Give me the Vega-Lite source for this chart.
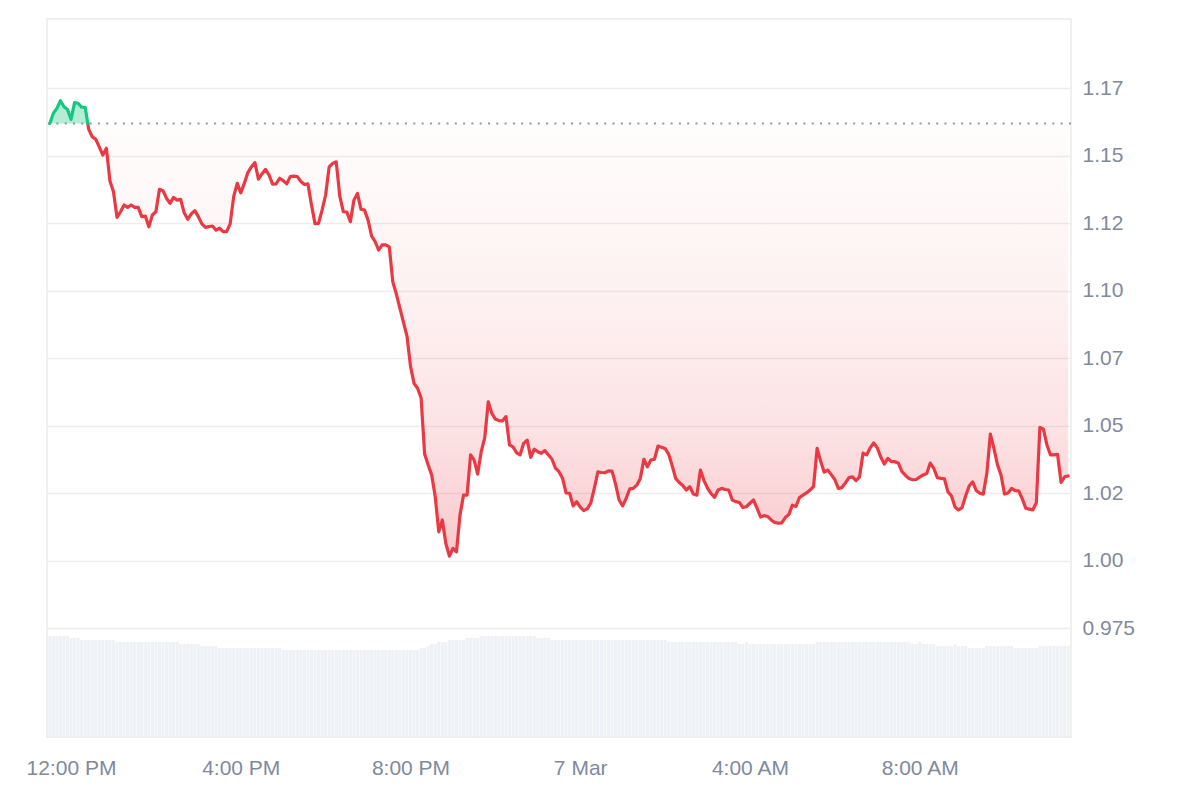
{
  "$schema": "https://vega.github.io/schema/vega-lite/v6.json",
  "width": 1024,
  "height": 718,
  "autosize": {"type": "none"},
  "padding": {"left": 47, "top": 19, "right": 129, "bottom": 63},
  "background": "#ffffff",
  "config": {
    "font": "Liberation Sans",
    "view": {"stroke": "#ebebeb", "strokeWidth": 1.5},
    "axis": {"labelColor": "#808a9d", "labelFontSize": 21, "labelFont": "Liberation Sans", "domain": false, "ticks": false, "title": null}
  },
  "data": {"values": [
{"t":"2025-03-06T11:30Z","p":1.1620,"v":202},{"t":"2025-03-06T11:35Z","p":1.1658,"v":202},{"t":"2025-03-06T11:40Z","p":1.1676,"v":202},{"t":"2025-03-06T11:45Z","p":1.1704,"v":202},{"t":"2025-03-06T11:50Z","p":1.1682,"v":202},{"t":"2025-03-06T11:55Z","p":1.1672,"v":202},
{"t":"2025-03-06T12:00Z","p":1.1635,"v":198},{"t":"2025-03-06T12:05Z","p":1.1697,"v":198},{"t":"2025-03-06T12:10Z","p":1.1695,"v":198},{"t":"2025-03-06T12:15Z","p":1.1680,"v":194},{"t":"2025-03-06T12:20Z","p":1.1680,"v":194},{"t":"2025-03-06T12:23:40Z","p":1.1620},{"t":"2025-03-06T12:25Z","p":1.1598,"v":194},{"t":"2025-03-06T12:30Z","p":1.1571,"v":194},{"t":"2025-03-06T12:35Z","p":1.1561,"v":194},{"t":"2025-03-06T12:40Z","p":1.1532,"v":194},{"t":"2025-03-06T12:45Z","p":1.1503,"v":194},{"t":"2025-03-06T12:50Z","p":1.1528,"v":194},{"t":"2025-03-06T12:55Z","p":1.1407,"v":194},
{"t":"2025-03-06T13:00Z","p":1.1367,"v":194},{"t":"2025-03-06T13:05Z","p":1.1272,"v":190},{"t":"2025-03-06T13:10Z","p":1.1293,"v":190},{"t":"2025-03-06T13:15Z","p":1.1318,"v":190},{"t":"2025-03-06T13:20Z","p":1.1309,"v":190},{"t":"2025-03-06T13:25Z","p":1.1318,"v":190},{"t":"2025-03-06T13:30Z","p":1.1309,"v":190},{"t":"2025-03-06T13:35Z","p":1.1309,"v":190},{"t":"2025-03-06T13:40Z","p":1.1275,"v":190},{"t":"2025-03-06T13:45Z","p":1.1277,"v":190},{"t":"2025-03-06T13:50Z","p":1.1237,"v":190},{"t":"2025-03-06T13:55Z","p":1.1281,"v":190},
{"t":"2025-03-06T14:00Z","p":1.1293,"v":190},{"t":"2025-03-06T14:05Z","p":1.1376,"v":190},{"t":"2025-03-06T14:10Z","p":1.1371,"v":190},{"t":"2025-03-06T14:15Z","p":1.1343,"v":190},{"t":"2025-03-06T14:20Z","p":1.1324,"v":190},{"t":"2025-03-06T14:25Z","p":1.1346,"v":190},{"t":"2025-03-06T14:30Z","p":1.1336,"v":190},{"t":"2025-03-06T14:35Z","p":1.1339,"v":186},{"t":"2025-03-06T14:40Z","p":1.1289,"v":186},{"t":"2025-03-06T14:45Z","p":1.1265,"v":186},{"t":"2025-03-06T14:50Z","p":1.1285,"v":186},{"t":"2025-03-06T14:55Z","p":1.1297,"v":186},
{"t":"2025-03-06T15:00Z","p":1.1275,"v":186},{"t":"2025-03-06T15:05Z","p":1.1248,"v":182},{"t":"2025-03-06T15:10Z","p":1.1235,"v":182},{"t":"2025-03-06T15:15Z","p":1.1238,"v":182},{"t":"2025-03-06T15:20Z","p":1.1240,"v":182},{"t":"2025-03-06T15:25Z","p":1.1225,"v":182},{"t":"2025-03-06T15:30Z","p":1.1232,"v":178},{"t":"2025-03-06T15:35Z","p":1.1219,"v":178},{"t":"2025-03-06T15:40Z","p":1.1219,"v":178},{"t":"2025-03-06T15:45Z","p":1.1248,"v":178},{"t":"2025-03-06T15:50Z","p":1.1349,"v":178},{"t":"2025-03-06T15:55Z","p":1.1398,"v":178},
{"t":"2025-03-06T16:00Z","p":1.1363,"v":178},{"t":"2025-03-06T16:05Z","p":1.1398,"v":178},{"t":"2025-03-06T16:10Z","p":1.1438,"v":178},{"t":"2025-03-06T16:15Z","p":1.1459,"v":178},{"t":"2025-03-06T16:20Z","p":1.1475,"v":178},{"t":"2025-03-06T16:25Z","p":1.1414,"v":178},{"t":"2025-03-06T16:30Z","p":1.1433,"v":178},{"t":"2025-03-06T16:35Z","p":1.1450,"v":178},{"t":"2025-03-06T16:40Z","p":1.1429,"v":178},{"t":"2025-03-06T16:45Z","p":1.1395,"v":178},{"t":"2025-03-06T16:50Z","p":1.1396,"v":178},{"t":"2025-03-06T16:55Z","p":1.1417,"v":178},
{"t":"2025-03-06T17:00Z","p":1.1408,"v":174},{"t":"2025-03-06T17:05Z","p":1.1396,"v":174},{"t":"2025-03-06T17:10Z","p":1.1423,"v":174},{"t":"2025-03-06T17:15Z","p":1.1425,"v":174},{"t":"2025-03-06T17:20Z","p":1.1423,"v":174},{"t":"2025-03-06T17:25Z","p":1.1405,"v":174},{"t":"2025-03-06T17:30Z","p":1.1394,"v":174},{"t":"2025-03-06T17:35Z","p":1.1396,"v":174},{"t":"2025-03-06T17:40Z","p":1.1318,"v":174},{"t":"2025-03-06T17:45Z","p":1.1249,"v":174},{"t":"2025-03-06T17:50Z","p":1.1250,"v":174},{"t":"2025-03-06T17:55Z","p":1.1299,"v":174},
{"t":"2025-03-06T18:00Z","p":1.1355,"v":174},{"t":"2025-03-06T18:05Z","p":1.1459,"v":174},{"t":"2025-03-06T18:10Z","p":1.1472,"v":174},{"t":"2025-03-06T18:15Z","p":1.1478,"v":174},{"t":"2025-03-06T18:20Z","p":1.1351,"v":174},{"t":"2025-03-06T18:25Z","p":1.1293,"v":174},{"t":"2025-03-06T18:30Z","p":1.1292,"v":174},{"t":"2025-03-06T18:35Z","p":1.1256,"v":174},{"t":"2025-03-06T18:40Z","p":1.1336,"v":174},{"t":"2025-03-06T18:45Z","p":1.1361,"v":174},{"t":"2025-03-06T18:50Z","p":1.1302,"v":174},{"t":"2025-03-06T18:55Z","p":1.1299,"v":174},
{"t":"2025-03-06T19:00Z","p":1.1262,"v":174},{"t":"2025-03-06T19:05Z","p":1.1203,"v":174},{"t":"2025-03-06T19:10Z","p":1.1182,"v":174},{"t":"2025-03-06T19:15Z","p":1.1151,"v":174},{"t":"2025-03-06T19:20Z","p":1.1170,"v":174},{"t":"2025-03-06T19:25Z","p":1.1170,"v":174},{"t":"2025-03-06T19:30Z","p":1.1163,"v":174},{"t":"2025-03-06T19:35Z","p":1.1033,"v":174},{"t":"2025-03-06T19:40Z","p":1.0988,"v":174},{"t":"2025-03-06T19:45Z","p":1.0936,"v":174},{"t":"2025-03-06T19:50Z","p":1.0884,"v":174},{"t":"2025-03-06T19:55Z","p":1.0833,"v":174},
{"t":"2025-03-06T20:00Z","p":1.0721,"v":174},{"t":"2025-03-06T20:05Z","p":1.0657,"v":174},{"t":"2025-03-06T20:10Z","p":1.0639,"v":174},{"t":"2025-03-06T20:15Z","p":1.0603,"v":178},{"t":"2025-03-06T20:20Z","p":1.0395,"v":178},{"t":"2025-03-06T20:25Z","p":1.0355,"v":182},{"t":"2025-03-06T20:30Z","p":1.0318,"v":186},{"t":"2025-03-06T20:35Z","p":1.0237,"v":186},{"t":"2025-03-06T20:40Z","p":1.0107,"v":190},{"t":"2025-03-06T20:45Z","p":1.0151,"v":190},{"t":"2025-03-06T20:50Z","p":1.0064,"v":190},{"t":"2025-03-06T20:55Z","p":1.0017,"v":194},
{"t":"2025-03-06T21:00Z","p":1.0046,"v":194},{"t":"2025-03-06T21:05Z","p":1.0033,"v":194},{"t":"2025-03-06T21:10Z","p":1.0169,"v":194},{"t":"2025-03-06T21:15Z","p":1.0243,"v":194},{"t":"2025-03-06T21:20Z","p":1.0243,"v":198},{"t":"2025-03-06T21:25Z","p":1.0392,"v":198},{"t":"2025-03-06T21:30Z","p":1.0373,"v":198},{"t":"2025-03-06T21:35Z","p":1.0321,"v":198},{"t":"2025-03-06T21:40Z","p":1.0404,"v":202},{"t":"2025-03-06T21:45Z","p":1.0455,"v":202},{"t":"2025-03-06T21:50Z","p":1.0589,"v":202},{"t":"2025-03-06T21:55Z","p":1.0546,"v":202},
{"t":"2025-03-06T22:00Z","p":1.0525,"v":202},{"t":"2025-03-06T22:05Z","p":1.0519,"v":202},{"t":"2025-03-06T22:10Z","p":1.0518,"v":202},{"t":"2025-03-06T22:15Z","p":1.0534,"v":202},{"t":"2025-03-06T22:20Z","p":1.0429,"v":202},{"t":"2025-03-06T22:25Z","p":1.0422,"v":202},{"t":"2025-03-06T22:30Z","p":1.0400,"v":202},{"t":"2025-03-06T22:35Z","p":1.0392,"v":202},{"t":"2025-03-06T22:40Z","p":1.0435,"v":202},{"t":"2025-03-06T22:45Z","p":1.0447,"v":202},{"t":"2025-03-06T22:50Z","p":1.0383,"v":202},{"t":"2025-03-06T22:55Z","p":1.0413,"v":202},
{"t":"2025-03-06T23:00Z","p":1.0404,"v":198},{"t":"2025-03-06T23:05Z","p":1.0398,"v":198},{"t":"2025-03-06T23:10Z","p":1.0408,"v":198},{"t":"2025-03-06T23:15Z","p":1.0392,"v":198},{"t":"2025-03-06T23:20Z","p":1.0377,"v":194},{"t":"2025-03-06T23:25Z","p":1.0343,"v":194},{"t":"2025-03-06T23:30Z","p":1.0330,"v":194},{"t":"2025-03-06T23:35Z","p":1.0306,"v":194},{"t":"2025-03-06T23:40Z","p":1.0251,"v":194},{"t":"2025-03-06T23:45Z","p":1.0250,"v":194},{"t":"2025-03-06T23:50Z","p":1.0203,"v":194},{"t":"2025-03-06T23:55Z","p":1.0219,"v":194},
{"t":"2025-03-07T00:00Z","p":1.0199,"v":194},{"t":"2025-03-07T00:05Z","p":1.0186,"v":194},{"t":"2025-03-07T00:10Z","p":1.0192,"v":194},{"t":"2025-03-07T00:15Z","p":1.0214,"v":194},{"t":"2025-03-07T00:20Z","p":1.0269,"v":194},{"t":"2025-03-07T00:25Z","p":1.0329,"v":194},{"t":"2025-03-07T00:30Z","p":1.0327,"v":194},{"t":"2025-03-07T00:35Z","p":1.0326,"v":194},{"t":"2025-03-07T00:40Z","p":1.0333,"v":194},{"t":"2025-03-07T00:45Z","p":1.0332,"v":194},{"t":"2025-03-07T00:50Z","p":1.0284,"v":194},{"t":"2025-03-07T00:55Z","p":1.0225,"v":194},
{"t":"2025-03-07T01:00Z","p":1.0203,"v":194},{"t":"2025-03-07T01:05Z","p":1.0231,"v":194},{"t":"2025-03-07T01:10Z","p":1.0266,"v":194},{"t":"2025-03-07T01:15Z","p":1.0268,"v":194},{"t":"2025-03-07T01:20Z","p":1.0280,"v":194},{"t":"2025-03-07T01:25Z","p":1.0305,"v":194},{"t":"2025-03-07T01:30Z","p":1.0376,"v":194},{"t":"2025-03-07T01:35Z","p":1.0348,"v":194},{"t":"2025-03-07T01:40Z","p":1.0373,"v":194},{"t":"2025-03-07T01:45Z","p":1.0376,"v":194},{"t":"2025-03-07T01:50Z","p":1.0425,"v":194},{"t":"2025-03-07T01:55Z","p":1.0420,"v":194},
{"t":"2025-03-07T02:00Z","p":1.0416,"v":194},{"t":"2025-03-07T02:05Z","p":1.0395,"v":190},{"t":"2025-03-07T02:10Z","p":1.0353,"v":190},{"t":"2025-03-07T02:15Z","p":1.0305,"v":190},{"t":"2025-03-07T02:20Z","p":1.0290,"v":190},{"t":"2025-03-07T02:25Z","p":1.0279,"v":190},{"t":"2025-03-07T02:30Z","p":1.0262,"v":190},{"t":"2025-03-07T02:35Z","p":1.0274,"v":190},{"t":"2025-03-07T02:40Z","p":1.0247,"v":190},{"t":"2025-03-07T02:45Z","p":1.0243,"v":190},{"t":"2025-03-07T02:50Z","p":1.0336,"v":190},{"t":"2025-03-07T02:55Z","p":1.0297,"v":190},
{"t":"2025-03-07T03:00Z","p":1.0269,"v":190},{"t":"2025-03-07T03:05Z","p":1.0249,"v":190},{"t":"2025-03-07T03:10Z","p":1.0235,"v":190},{"t":"2025-03-07T03:15Z","p":1.0262,"v":190},{"t":"2025-03-07T03:20Z","p":1.0268,"v":190},{"t":"2025-03-07T03:25Z","p":1.0264,"v":190},{"t":"2025-03-07T03:30Z","p":1.0262,"v":190},{"t":"2025-03-07T03:35Z","p":1.0225,"v":190},{"t":"2025-03-07T03:40Z","p":1.0219,"v":190},{"t":"2025-03-07T03:45Z","p":1.0216,"v":186},{"t":"2025-03-07T03:50Z","p":1.0197,"v":186},{"t":"2025-03-07T03:55Z","p":1.0200,"v":190},
{"t":"2025-03-07T04:00Z","p":1.0213,"v":186},{"t":"2025-03-07T04:05Z","p":1.0225,"v":186},{"t":"2025-03-07T04:10Z","p":1.0195,"v":186},{"t":"2025-03-07T04:15Z","p":1.0162,"v":186},{"t":"2025-03-07T04:20Z","p":1.0167,"v":186},{"t":"2025-03-07T04:25Z","p":1.0164,"v":186},{"t":"2025-03-07T04:30Z","p":1.0151,"v":186},{"t":"2025-03-07T04:35Z","p":1.0142,"v":186},{"t":"2025-03-07T04:40Z","p":1.0139,"v":186},{"t":"2025-03-07T04:45Z","p":1.0140,"v":186},{"t":"2025-03-07T04:50Z","p":1.0160,"v":186},{"t":"2025-03-07T04:55Z","p":1.0171,"v":186},
{"t":"2025-03-07T05:00Z","p":1.0206,"v":186},{"t":"2025-03-07T05:05Z","p":1.0201,"v":186},{"t":"2025-03-07T05:10Z","p":1.0234,"v":186},{"t":"2025-03-07T05:15Z","p":1.0243,"v":186},{"t":"2025-03-07T05:20Z","p":1.0251,"v":186},{"t":"2025-03-07T05:25Z","p":1.0262,"v":186},{"t":"2025-03-07T05:30Z","p":1.0275,"v":186},{"t":"2025-03-07T05:35Z","p":1.0416,"v":190},{"t":"2025-03-07T05:40Z","p":1.0369,"v":190},{"t":"2025-03-07T05:45Z","p":1.0328,"v":190},{"t":"2025-03-07T05:50Z","p":1.0336,"v":190},{"t":"2025-03-07T05:55Z","p":1.0319,"v":190},
{"t":"2025-03-07T06:00Z","p":1.0301,"v":190},{"t":"2025-03-07T06:05Z","p":1.0268,"v":190},{"t":"2025-03-07T06:10Z","p":1.0271,"v":190},{"t":"2025-03-07T06:15Z","p":1.0288,"v":190},{"t":"2025-03-07T06:20Z","p":1.0308,"v":190},{"t":"2025-03-07T06:25Z","p":1.0311,"v":190},{"t":"2025-03-07T06:30Z","p":1.0297,"v":190},{"t":"2025-03-07T06:35Z","p":1.0311,"v":190},{"t":"2025-03-07T06:40Z","p":1.0399,"v":190},{"t":"2025-03-07T06:45Z","p":1.0392,"v":190},{"t":"2025-03-07T06:50Z","p":1.0418,"v":190},{"t":"2025-03-07T06:55Z","p":1.0436,"v":190},
{"t":"2025-03-07T07:00Z","p":1.0419,"v":190},{"t":"2025-03-07T07:05Z","p":1.0384,"v":190},{"t":"2025-03-07T07:10Z","p":1.0358,"v":190},{"t":"2025-03-07T07:15Z","p":1.0379,"v":190},{"t":"2025-03-07T07:20Z","p":1.0367,"v":190},{"t":"2025-03-07T07:25Z","p":1.0367,"v":190},{"t":"2025-03-07T07:30Z","p":1.0361,"v":190},{"t":"2025-03-07T07:35Z","p":1.0330,"v":190},{"t":"2025-03-07T07:40Z","p":1.0316,"v":190},{"t":"2025-03-07T07:45Z","p":1.0305,"v":190},{"t":"2025-03-07T07:50Z","p":1.0300,"v":186},{"t":"2025-03-07T07:55Z","p":1.0301,"v":186},
{"t":"2025-03-07T08:00Z","p":1.0310,"v":190},{"t":"2025-03-07T08:05Z","p":1.0318,"v":186},{"t":"2025-03-07T08:10Z","p":1.0323,"v":186},{"t":"2025-03-07T08:15Z","p":1.0362,"v":186},{"t":"2025-03-07T08:20Z","p":1.0342,"v":186},{"t":"2025-03-07T08:25Z","p":1.0308,"v":182},{"t":"2025-03-07T08:30Z","p":1.0305,"v":182},{"t":"2025-03-07T08:35Z","p":1.0303,"v":182},{"t":"2025-03-07T08:40Z","p":1.0255,"v":182},{"t":"2025-03-07T08:45Z","p":1.0240,"v":182},{"t":"2025-03-07T08:50Z","p":1.0199,"v":186},{"t":"2025-03-07T08:55Z","p":1.0188,"v":182},
{"t":"2025-03-07T09:00Z","p":1.0197,"v":182},{"t":"2025-03-07T09:05Z","p":1.0240,"v":182},{"t":"2025-03-07T09:10Z","p":1.0277,"v":178},{"t":"2025-03-07T09:15Z","p":1.0292,"v":178},{"t":"2025-03-07T09:20Z","p":1.0260,"v":178},{"t":"2025-03-07T09:25Z","p":1.0250,"v":178},{"t":"2025-03-07T09:30Z","p":1.0247,"v":178},{"t":"2025-03-07T09:35Z","p":1.0324,"v":182},{"t":"2025-03-07T09:40Z","p":1.0469,"v":182},{"t":"2025-03-07T09:45Z","p":1.0416,"v":182},{"t":"2025-03-07T09:50Z","p":1.0356,"v":182},{"t":"2025-03-07T09:55Z","p":1.0318,"v":182},
{"t":"2025-03-07T10:00Z","p":1.0247,"v":182},{"t":"2025-03-07T10:05Z","p":1.0251,"v":182},{"t":"2025-03-07T10:10Z","p":1.0268,"v":182},{"t":"2025-03-07T10:15Z","p":1.0260,"v":178},{"t":"2025-03-07T10:20Z","p":1.0259,"v":178},{"t":"2025-03-07T10:25Z","p":1.0230,"v":178},{"t":"2025-03-07T10:30Z","p":1.0195,"v":178},{"t":"2025-03-07T10:35Z","p":1.0191,"v":178},{"t":"2025-03-07T10:40Z","p":1.0188,"v":178},{"t":"2025-03-07T10:45Z","p":1.0215,"v":178},{"t":"2025-03-07T10:50Z","p":1.0494,"v":182},{"t":"2025-03-07T10:55Z","p":1.0487,"v":182},
{"t":"2025-03-07T11:00Z","p":1.0429,"v":182},{"t":"2025-03-07T11:05Z","p":1.0392,"v":182},{"t":"2025-03-07T11:10Z","p":1.0392,"v":182},{"t":"2025-03-07T11:15Z","p":1.0394,"v":182},{"t":"2025-03-07T11:20Z","p":1.0290,"v":182},{"t":"2025-03-07T11:25Z","p":1.0311,"v":182},{"t":"2025-03-07T11:30Z","p":1.0314,"v":182}
  ]},
  "encoding": {
    "x": {
      "field": "t", "type": "temporal",
      "scale": {"type": "utc", "padding": 0, "nice": false, "domain": [{"year": 2025, "month": 3, "date": 6, "hours": 11, "minutes": 26, "utc": true}, {"year": 2025, "month": 3, "date": 7, "hours": 11, "minutes": 34, "utc": true}]},
      "axis": {
        "values": [
          {"year": 2025, "month": 3, "date": 6, "hours": 12, "utc": true},
          {"year": 2025, "month": 3, "date": 6, "hours": 16, "utc": true},
          {"year": 2025, "month": 3, "date": 6, "hours": 20, "utc": true},
          {"year": 2025, "month": 3, "date": 7, "hours": 0, "utc": true},
          {"year": 2025, "month": 3, "date": 7, "hours": 4, "utc": true},
          {"year": 2025, "month": 3, "date": 7, "hours": 8, "utc": true}
        ],
        "labelExpr": "utchours(datum.value) == 0 ? utcFormat(datum.value, '%-d %b') : utcFormat(datum.value, '%-I:%M %p')",
        "grid": false, "labelPadding": 20, "labelFlush": false, "labelOverlap": false, "title": null
      }
    }
  },
  "layer": [
    {
      "transform": [{"filter": "isValid(datum.v)"}],
      "mark": {"type": "bar", "color": "#eef1f5", "width": 3.1},
      "encoding": {
        "y": {"field": "v", "type": "quantitative", "scale": {"domain": [0, 1436], "nice": false, "zero": true}, "axis": null}
      }
    },
    {
      "encoding": {
        "y": {
          "field": "p", "type": "quantitative",
          "scale": {"domain": [0.9347, 1.2007], "nice": false, "zero": false},
          "axis": {
            "orient": "right", "values": [0.975, 1, 1.025, 1.05, 1.075, 1.1, 1.125, 1.15, 1.175],
            "labelExpr": "datum.value < 0.99 ? '0.975' : format(floor(datum.value * 100 + 0.000001) / 100, '.2f')",
            "grid": true, "gridColor": "#ededed", "gridWidth": 1.5, "labelPadding": 11, "labelAlign": "left", "title": null
          }
        }
      },
      "layer": [
        {
          "transform": [{"filter": {"field": "t", "gte": {"year": 2025, "month": 3, "date": 6, "hours": 12, "minutes": 23, "seconds": 40, "utc": true}}}],
          "mark": {"type": "area", "color": {"gradient": "linear", "x1": 0, "y1": 0, "x2": 0, "y2": 1, "stops": [
            {"offset": 0, "color": "rgba(234,57,67,0.01)"},
            {"offset": 0.4, "color": "rgba(234,57,67,0.07)"},
            {"offset": 0.7, "color": "rgba(234,57,67,0.14)"},
            {"offset": 1, "color": "rgba(234,57,67,0.27)"}
          ]}},
          "encoding": {"y2": {"datum": 1.162}}
        },
        {
          "data": {"values": [{"base": 1.162}]},
          "mark": {"type": "rule", "color": "#999999", "strokeWidth": 2, "strokeDash": [2, 6.3]},
          "encoding": {"x": null, "y": {"field": "base", "type": "quantitative"}}
        },
        {
          "transform": [{"filter": {"field": "t", "lte": {"year": 2025, "month": 3, "date": 6, "hours": 12, "minutes": 23, "seconds": 40, "utc": true}}}],
          "mark": {"type": "area", "color": "rgba(22,199,132,0.33)"},
          "encoding": {"y2": {"datum": 1.162}}
        },
        {
          "transform": [{"filter": {"field": "t", "gte": {"year": 2025, "month": 3, "date": 6, "hours": 12, "minutes": 23, "seconds": 40, "utc": true}}}],
          "mark": {"type": "line", "color": "#ea3943", "strokeWidth": 3.2, "strokeJoin": "round", "strokeCap": "round"},
          "encoding": {}
        },
        {
          "transform": [{"filter": {"field": "t", "lte": {"year": 2025, "month": 3, "date": 6, "hours": 12, "minutes": 23, "seconds": 40, "utc": true}}}],
          "mark": {"type": "line", "color": "#16c784", "strokeWidth": 3.2, "strokeJoin": "round", "strokeCap": "round"},
          "encoding": {}
        }
      ]
    }
  ],
  "resolve": {"scale": {"y": "independent"}}
}
